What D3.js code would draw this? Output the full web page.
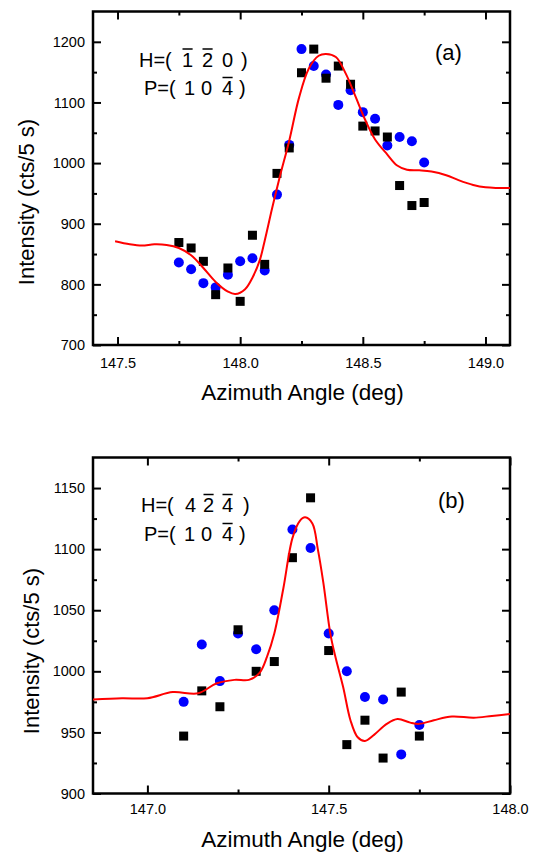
<!DOCTYPE html>
<html><head><meta charset="utf-8">
<script src="https://cdn.jsdelivr.net/npm/d3@7"></script>
<style>
body{margin:0;background:#fff}
text{font-family:"Liberation Sans",Arial,Helvetica,sans-serif;fill:#000}
</style>
</head><body>
<svg id="chart" width="538" height="854"></svg>
<script>
// ---------- Panel (a) data ----------
const anglesA = [147.75,147.80,147.85,147.90,147.95,148.00,148.05,148.10,148.15,148.20,148.25,148.30,148.35,148.40,148.45,148.50,148.55,148.60,148.65,148.70,148.75];
const squaresA = [869,860,838,783,827,772,881,833,983,1025,1149,1188,1140,1160,1130,1061,1053,1043,963,930,935];
const circlesA = [836,825,802,795,816,838,843,823,948,1030,1188,1160,1146,1096,1120,1084,1073,1029,1043,1036,1001];
const fitAngleA = [147.49,147.55,147.60,147.65,147.70,147.75,147.80,147.85,147.90,147.95,147.98,148.02,148.05,148.08,148.10,148.13,148.16,148.20,148.24,148.28,148.32,148.35,148.39,148.43,148.47,148.51,148.55,148.60,148.64,148.68,148.73,148.78,148.84,148.89,148.95,149.00,149.05,149.10];
const fitA = [871,866,864,866,865,860,848,827,804,788,784,792,811,840,872,925,975,1037,1108,1156,1177,1180,1175,1148,1110,1071,1039,1014,996,989,988,986,980,972,964,960,959,959];
const xTicksA = [147.5,148.0,148.5,149.0];
const xMinorA = [147.75,148.25,148.75];
const yTicksA = [700,800,900,1000,1100,1200];
const yMinorA = [750,850,950,1050,1150];

// ---------- Panel (b) data ----------
const anglesB = [147.10,147.15,147.20,147.25,147.30,147.35,147.40,147.45,147.50,147.55,147.60,147.65,147.70,147.75];
const squaresB = [947,984,971,1034,1000,1008,1093,1142,1017,940,960,929,983,947];
const circlesB = [975,1022,992,1031,1018,1050,1116,1101,1031,1000,979,977,932,956];
const fitAngleB = [146.85,146.93,147.00,147.07,147.14,147.19,147.24,147.28,147.31,147.33,147.35,147.375,147.40,147.42,147.435,147.455,147.47,147.485,147.505,147.52,147.54,147.56,147.58,147.60,147.625,147.66,147.69,147.725,147.75,147.79,147.84,147.90,147.95,148.00];
const fitB = [977,978,978,983,982,990,993,993,999,1012,1031,1068,1109,1123,1126,1121,1100,1073,1030,1010,987,960,946,943,948,957,961,958,957,960,963,962,963.5,965];
const xTicksB = [147.0,147.5,148.0];
const xMinorB = [147.25,147.75];
const yTicksB = [900,950,1000,1050,1100,1150];
const yMinorB = [925,975,1025,1075,1125];

const xTitle = "Azimuth Angle (deg)";
const yTitle = "Intensity (cts/5 s)";

const svg = d3.select("#chart");

function panel(cfg) {
  const {L,R,T,B} = cfg;
  const x = d3.scaleLinear().domain(cfg.xDomain).range([L,R]);
  const y = d3.scaleLinear().domain(cfg.yDomain).range([B,T]);
  const g = svg.append("g");
  const fmt = d3.format(".1f");

  function axis(gen, tr, vals, size, lab, pad) {
    const a = g.append("g").attr("transform", tr)
      .call(gen.tickValues(vals).tickSize(size).tickPadding(pad||0).tickFormat(lab || (()=>"")));
    a.select(".domain").remove();
    a.selectAll(".tick line").attr("stroke","#000").attr("stroke-width",2);
    a.selectAll(".tick text").attr("font-size",14.5).attr("fill","#000")
      .attr("font-family",'"Liberation Sans",Arial,sans-serif');
    return a;
  }
  axis(d3.axisBottom(x), `translate(0,${B})`, cfg.xTicks, -8, fmt, cfg.xPad);
  axis(d3.axisBottom(x), `translate(0,${B})`, cfg.xMinor, -4);
  axis(d3.axisTop(x), `translate(0,${T})`, cfg.xTicks, -8);
  axis(d3.axisTop(x), `translate(0,${T})`, cfg.xMinor, -4);
  axis(d3.axisLeft(y), `translate(${L},0)`, cfg.yTicks, -8, d3.format("d"), 8);
  axis(d3.axisLeft(y), `translate(${L},0)`, cfg.yMinor, -4);
  axis(d3.axisRight(y), `translate(${R},0)`, cfg.yTicks, -8);
  axis(d3.axisRight(y), `translate(${R},0)`, cfg.yMinor, -4);

  g.append("rect").attr("x",L).attr("y",T).attr("width",R-L).attr("height",B-T)
    .attr("fill","none").attr("stroke","#000").attr("stroke-width",2.5);

  const clipId = "clip"+cfg.id;
  svg.append("clipPath").attr("id",clipId).append("rect")
    .attr("x",L).attr("y",T).attr("width",R-L).attr("height",B-T);
  const pg = g.append("g").attr("clip-path",`url(#${clipId})`);

  pg.selectAll("circle").data(cfg.angles.map((a,i)=>[a,cfg.circles[i]])).join("circle")
    .attr("cx",d=>x(d[0])).attr("cy",d=>y(d[1])).attr("r",5).attr("fill","#0000ff");
  const s = 9;
  pg.selectAll("rect.sq").data(cfg.angles.map((a,i)=>[a,cfg.squares[i]])).join("rect")
    .attr("class","sq").attr("x",d=>x(d[0])-s/2).attr("y",d=>y(d[1])-s/2)
    .attr("width",s).attr("height",s).attr("fill","#000");
  const line = d3.line().x(d=>x(d[0])).y(d=>y(d[1])).curve(d3.curveCatmullRom.alpha(0.5));
  pg.append("path").datum(cfg.fitX.map((a,i)=>[a,cfg.fitY[i]]))
    .attr("d",line).attr("fill","none").attr("stroke","#ff0000").attr("stroke-width",2);

  g.append("text").attr("x",(L+R)/2+1).attr("y",cfg.xTitleY).attr("text-anchor","middle")
    .attr("font-size",22.5).text(xTitle);
  g.append("text").attr("transform",`translate(${cfg.yTitleX},${cfg.yTitleY}) rotate(-90)`)
    .attr("text-anchor","middle").attr("font-size",22).text(yTitle);

  g.append("text").attr("x",cfg.tagX).attr("y",cfg.tagY).attr("font-size",22).text(cfg.tag);

  cfg.labels.forEach(line => {
    line.parts.forEach(p => {
      const t = g.append("text").attr("x",p.x).attr("y",line.y).attr("font-size",20).text(p.t);
      if (p.bar) {
        const bb = t.node().getBBox();
        g.append("line").attr("x1",bb.x+0.5).attr("x2",bb.x+bb.width-0.5)
          .attr("y1",line.y-line.barUp).attr("y2",line.y-line.barUp)
          .attr("stroke","#000").attr("stroke-width",1.5);
      }
    });
  });
}

panel({
  id:"a", L:93, R:510, T:11.5, B:345,
  xDomain:[147.4,149.1], yDomain:[700,1250],
  xTicks:xTicksA, xMinor:xMinorA, yTicks:yTicksA, yMinor:yMinorA, xPad:13,
  angles:anglesA, squares:squaresA, circles:circlesA, fitX:fitAngleA, fitY:fitA,
  xTitleY:400, yTitleX:34, yTitleY:202,
  tag:"(a)", tagX:435, tagY:60,
  labels:[
    {y:66.5, barUp:17.5, parts:[{t:"H=(",x:139},{t:"1",x:182,bar:true},{t:"2",x:202,bar:true},{t:"0",x:222},{t:")",x:241}]},
    {y:95, barUp:17.5, parts:[{t:"P=(",x:144},{t:"1",x:184},{t:"0",x:201},{t:"4",x:222,bar:true},{t:")",x:239}]}
  ]
});

panel({
  id:"b", L:93, R:510, T:457.5, B:793.5,
  xDomain:[146.85,148.0], yDomain:[900,1175],
  xTicks:xTicksB, xMinor:xMinorB, yTicks:yTicksB, yMinor:yMinorB, xPad:10,
  angles:anglesB, squares:squaresB, circles:circlesB, fitX:fitAngleB, fitY:fitB,
  xTitleY:847, yTitleX:39, yTitleY:651,
  tag:"(b)", tagX:438, tagY:508,
  labels:[
    {y:512, barUp:17.5, parts:[{t:"H=(",x:141},{t:"4",x:185},{t:"2",x:203,bar:true},{t:"4",x:222,bar:true},{t:")",x:243}]},
    {y:541, barUp:17.5, parts:[{t:"P=(",x:144},{t:"1",x:184},{t:"0",x:201},{t:"4",x:222,bar:true},{t:")",x:239}]}
  ]
});
</script>
</body></html>
